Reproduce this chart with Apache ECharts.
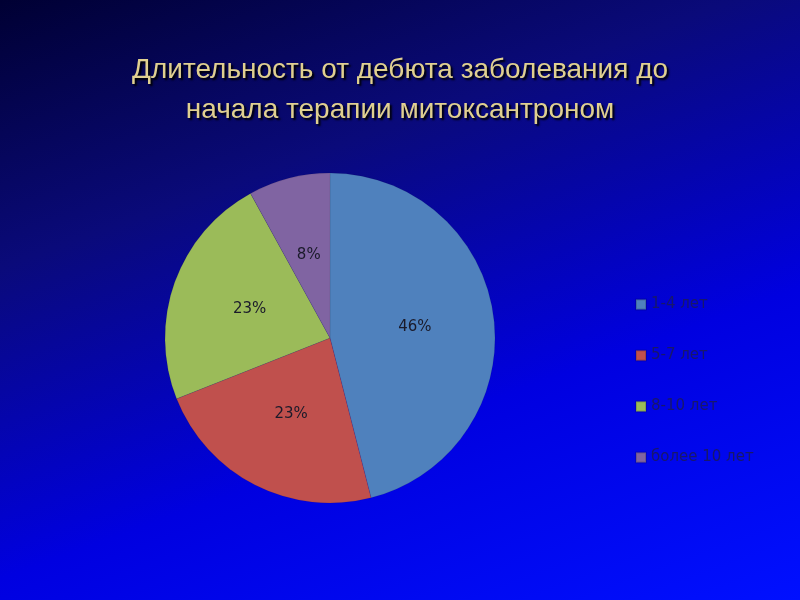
<!DOCTYPE html>
<html>
<head>
<meta charset="utf-8">
<script src="https://cdn.jsdelivr.net/npm/echarts@6/dist/echarts.min.js"></script>
<style>
    html,body{margin:0;padding:0;}
    #chart{width:800px;height:600px;background:linear-gradient(160deg,#000033 0%,#0a0a7a 30%,#0000e0 65%,#0010ff 100%);}
</style>
</head>
<body>
<div id="chart"></div>
<script>
    var categories = ['1-4 лет', '5-7 лет', '8-10 лет', 'более 10 лет'];
    var values = [46, 23, 23, 8];
    var colors = ['#4f81bd', '#c0504d', '#9bbb59', '#8064a2'];

    var myChart = echarts.init(document.getElementById('chart'));

    var option = {
        color: colors,
        title: {
            text: 'Длительность от дебюта заболевания до\nначала терапии митоксантроном',
            left: 'center',
            top: 45,
            textStyle: {
                fontFamily: 'Liberation Sans',
                fontSize: 28,
                fontWeight: 'normal',
                lineHeight: 40,
                color: '#e0d090',
                textShadowColor: '#000000',
                textShadowBlur: 2,
                textShadowOffsetX: 2,
                textShadowOffsetY: 2
            }
        },
        legend: {
            orient: 'vertical',
            left: 630,
            top: 292,
            itemGap: 36,
            itemWidth: 10,
            itemHeight: 10,
            icon: 'rect',
            textStyle: {color: '#18186a', fontFamily: 'DejaVu Sans', fontSize: 15},
            data: categories
        },
        series: [{
            type: 'pie',
            radius: 165,
            center: [330, 338],
            startAngle: 90,
            clockwise: true,
            label: {
                position: 'inside',
                formatter: '{d}%',
                color: '#1a1a2a',
                fontFamily: 'DejaVu Sans',
                fontSize: 15
            },
            labelLine: {show: false},
            itemStyle: {borderColor: 'rgba(0,0,0,0.15)', borderWidth: 0.5},
            data: categories.map(function (c, i) { return {name: c, value: values[i]}; })
        }]
    };
    myChart.setOption(option, true);
</script>
</body>
</html>
